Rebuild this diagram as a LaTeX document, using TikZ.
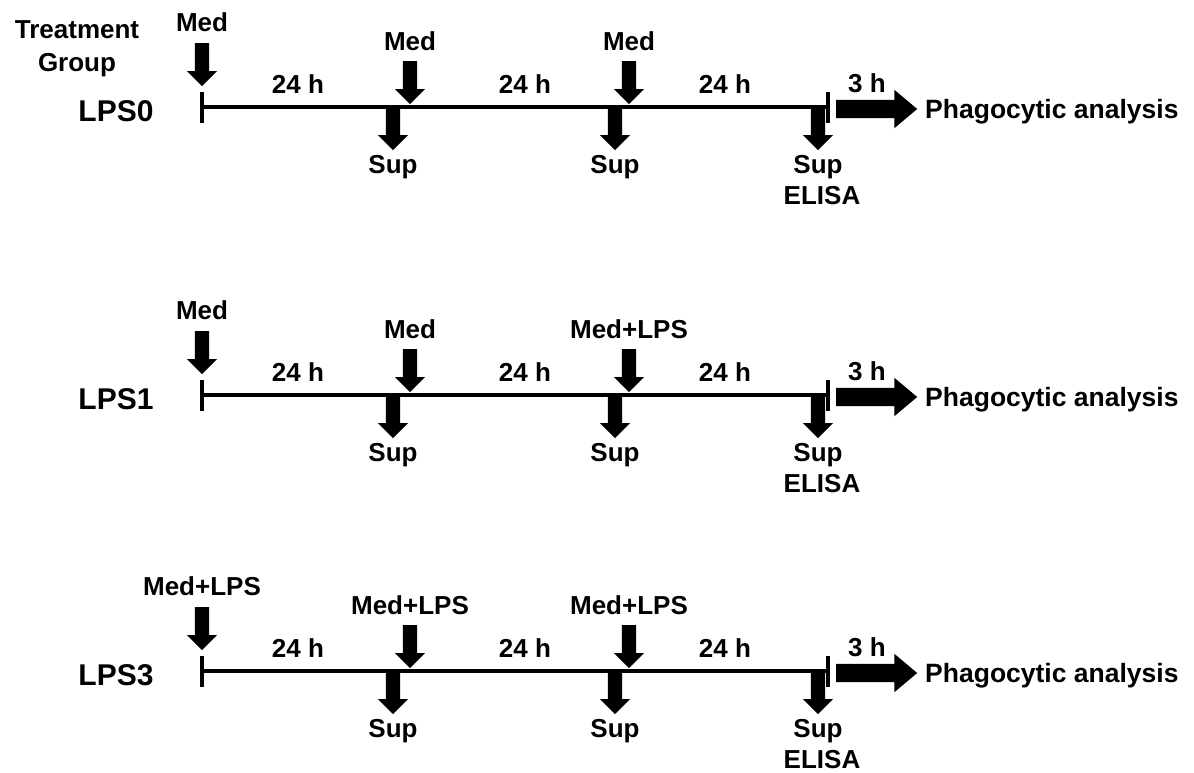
\documentclass[tikz,border=0pt]{standalone}
\usepackage{fontspec}
\setmainfont{Liberation Sans}
\usetikzlibrary{shapes.arrows}
\tikzset{
  txt/.style={inner sep=0pt, anchor=base, font=\fontsize{26}{30}\selectfont\bfseries},
  grp/.style={inner sep=0pt, anchor=base, font=\fontsize{30}{34}\selectfont\bfseries},
  downarr/.style={single arrow, fill=black, draw=none, inner xsep=0pt, inner ysep=7pt,
    single arrow head extend=8pt, minimum height=43pt, rotate=-90, anchor=tail},
  bigarr/.style={single arrow, fill=black, draw=none, inner xsep=0pt, inner ysep=9pt,
    single arrow head extend=10pt, minimum height=81pt, single arrow tip angle=80, anchor=tail},
  tl/.style={line width=4pt},
}
% #1 id, #2 line y, #3 group label, #4 #5 #6 additions
\newcommand\tlrow[6]{%
  \coordinate (s#1) at (202,#2);
  \coordinate (e#1) at (828,#2);
  \coordinate (st#1) at (202,{#2-15});
  \coordinate (sb#1) at (202,{#2+16});
  \coordinate (et#1) at (828,{#2-15});
  \coordinate (eb#1) at (828,{#2+16});
  \draw[tl] (s#1) -- (e#1);
  \draw[tl] (st#1) -- (sb#1);
  \draw[tl] (et#1) -- (eb#1);
  \node[grp] (lbl#1) at (116,{#2+14}) {#3};
  \node[downarr] (ma#1) at (202,{#2-64}) {};
  \node[downarr] (mb#1) at (410,{#2-46}) {};
  \node[downarr] (mc#1) at (629,{#2-46}) {};
  \node[downarr] (pa#1) at (393,#2) {};
  \node[downarr] (pb#1) at (615,#2) {};
  \node[downarr] (pc#1) at (818,#2) {};
  \node[bigarr] (big#1) at (836,{#2+2}) {};
  \node[txt] (ta#1) at (202,{#2-76}) {#4};
  \node[txt] (tb#1) at (410,{#2-57}) {#5};
  \node[txt] (tc#1) at (629,{#2-57}) {#6};
  \node[txt] (ha#1) at (298,{#2-14}) {24 h};
  \node[txt] (hb#1) at (525,{#2-14}) {24 h};
  \node[txt] (hc#1) at (725,{#2-14}) {24 h};
  \node[txt] (hd#1) at (867,{#2-15}) {3 h};
  \node[txt] (sa#1) at (393,{#2+66}) {Sup};
  \node[txt] (sb#1) at (615,{#2+66}) {Sup};
  \node[txt] (sc#1) at (818,{#2+66}) {Sup};
  \node[txt] (el#1) at (822,{#2+97}) {ELISA};
  \node[txt, anchor=base west, font=\fontsize{26.5}{30}\selectfont\bfseries] (ph#1) at (925,{#2+11}) {Phagocytic analysis};
}
\begin{document}
\begin{tikzpicture}[x=1pt,y=-1pt]
\useasboundingbox (0,0) rectangle (1194,772);
\node[txt] (treat) at (77,38) {Treatment};
\node[txt] (group) at (77,71) {Group};
\tlrow{A}{107}{LPS0}{Med}{Med}{Med}
\tlrow{B}{395}{LPS1}{Med}{Med}{Med+LPS}
\tlrow{C}{671}{LPS3}{Med+LPS}{Med+LPS}{Med+LPS}
\end{tikzpicture}
\end{document}
